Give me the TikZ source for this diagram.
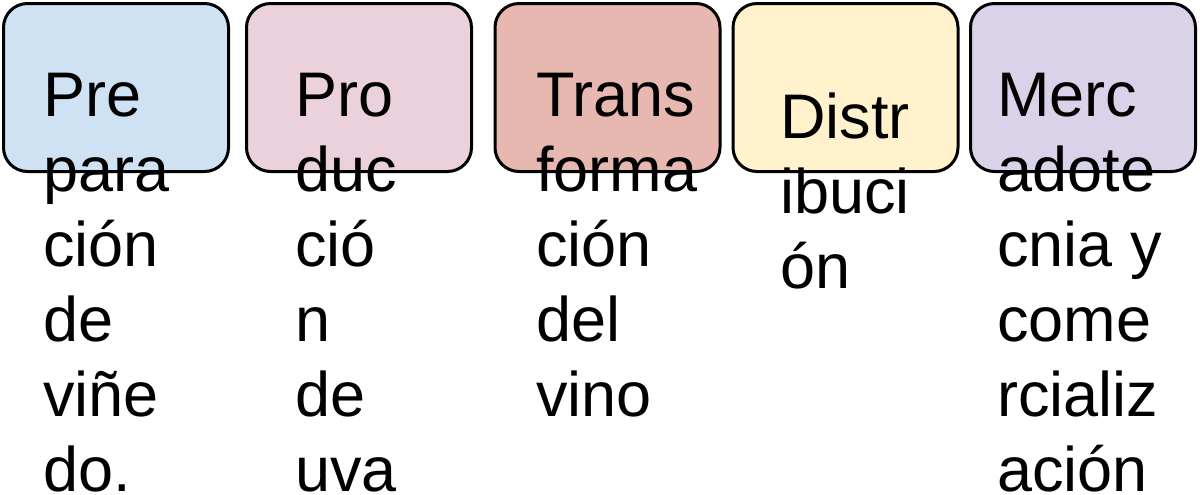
\documentclass[tikz,border=0pt]{standalone}
\usepackage{fontspec}
\setmainfont{Liberation Sans}
\usetikzlibrary{positioning}

\definecolor{prepfill}{HTML}{CFE2F3}
\definecolor{prodfill}{HTML}{EAD1DC}
\definecolor{transfill}{HTML}{E6B8AF}
\definecolor{distfill}{HTML}{FFF2CC}
\definecolor{mercfill}{HTML}{D9D2E9}

\newcommand{\stagen}{\node[draw, line width=1.5pt, rounded corners=12pt,
    minimum width=112.5pt, minimum height=84pt, inner sep=0pt]}
\newcommand{\textn}{\node[anchor=north west, inner sep=0pt, align=left,
    font=\fontsize{31.5}{37.5}\selectfont]}

\begin{document}
\begin{tikzpicture}[x=0.5pt, y=-0.5pt]
            \useasboundingbox (0,0) rectangle (1200,494);

            \stagen[fill=prepfill] (prep) at (116, 87.5) {};
            \stagen[fill=prodfill] (prod) at (359, 87.5) {};
            \stagen[fill=transfill] (trans) at (607.5, 87.5) {};
            \stagen[fill=distfill] (dist) at (845.5, 87.5) {};
            \stagen[fill=mercfill] (merc) at (1083, 87.5) {};

            \textn (preptxt) at (43, 73) {Pre\\para\\ción\\de\\viñe\\do.};
            \textn (prodtxt) at (295, 73) {Pro\\duc\\ció\\n\\de\\uva};
            \textn (transtxt) at (536, 73) {Trans\\forma\\ción\\del\\vino};
            \textn (disttxt) at (780, 92) {Distr\\ibuci\\ón};
            \textn (merctxt) at (997, 73) {Merc\\adote\\cnia y\\come\\rcializ\\ación};

        \end{tikzpicture}
\end{document}
